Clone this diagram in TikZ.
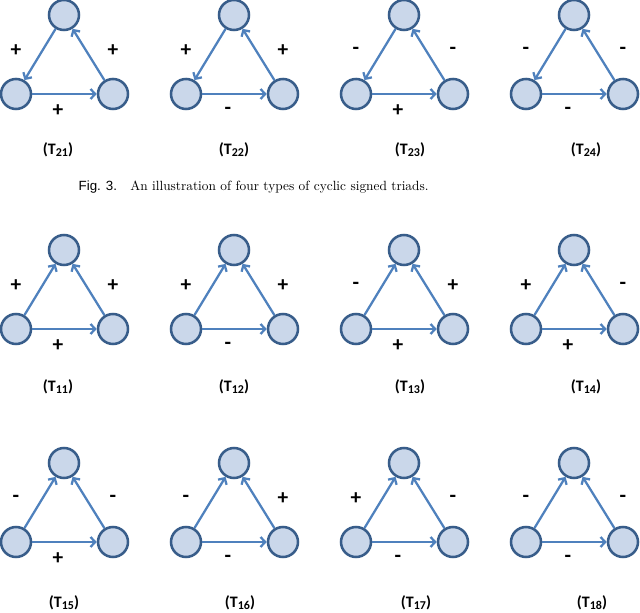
\documentclass[tikz,border=0pt]{standalone}
\usepackage{fontspec}
\usetikzlibrary{arrows.meta}
\newfontfamily\labfont{Carlito}
\newfontfamily\figfont{Liberation Sans}
\definecolor{ringblue}{HTML}{385D8A}
\definecolor{fillblue}{HTML}{CAD7EA}
\definecolor{linkblue}{HTML}{4F81BD}
\newcommand{\tname}[1]{{\labfont\bfseries (T\raisebox{-1pt}{\fontsize{9}{9}\selectfont #1})}}
\begin{document}
\begin{tikzpicture}[
  x=0.75pt,y=-0.75pt,
  vertex/.style={circle,draw=ringblue,line width=1.9pt,fill=fillblue,
    minimum size=22.5pt,inner sep=0pt},
  link/.style={draw=linkblue,line width=1.7pt,
    -{Straight Barb[length=3.5pt,width=7.5pt]}},
  sign/.style={font=\labfont\bfseries\fontsize{16}{16}\selectfont,inner sep=0pt},
  tag/.style={font=\labfont\bfseries\fontsize{12}{12}\selectfont}
]
  \useasboundingbox (0,0) rectangle (640,613);

  % x0 / y0 / cyclic / left / right / bottom / tag x / tag y / name
  \foreach \x/\y/\cyc/\sl/\sr/\sb/\tx/\ty/\nm [count=\n] in {
    16/15/1/+/+/+/58/150/21,
    186/15/1/+/+/-/234/150/22,
    356/15/1/-/-/+/410/150/23,
    526/15/1/-/-/-/586/150/24,
    16/250/0/+/+/+/58/387/11,
    186/250/0/+/+/-/234/387/12,
    356/250/0/-/+/+/410/387/13,
    526/250/0/+/-/+/586/387/14,
    16/463/0/-/-/+/64/603/15,
    186/463/0/-/+/-/240/603/16,
    356/463/0/+/-/-/416/603/17,
    526/463/0/-/-/-/592/603/18}{
    \node[vertex] (top\n) at (\x+48,\y) {};
    \node[vertex] (lft\n) at (\x,\y+79) {};
    \node[vertex] (rgt\n) at (\x+97,\y+79) {};
    \ifnum\cyc=1
      \draw[link] (top\n) -- (lft\n);
    \else
      \draw[link] (lft\n) -- (top\n);
    \fi
    \draw[link] (lft\n) -- (rgt\n);
    \draw[link] (rgt\n) -- (top\n);
    \node[sign] (sl\n) at (\x,\y+36) {\sl};
    \node[sign] (sr\n) at (\x+97,\y+36) {\sr};
    \node[sign] (sb\n) at (\x+42,\y+96) {\sb};
    \node[tag] (nm\n) at (\tx,\ty) {\tname{\nm}};
  }

  \node[anchor=west] (cap) at (74,187)
    {{\figfont Fig. 3.}\quad An illustration of four types of cyclic signed triads.};
\end{tikzpicture}
\end{document}
